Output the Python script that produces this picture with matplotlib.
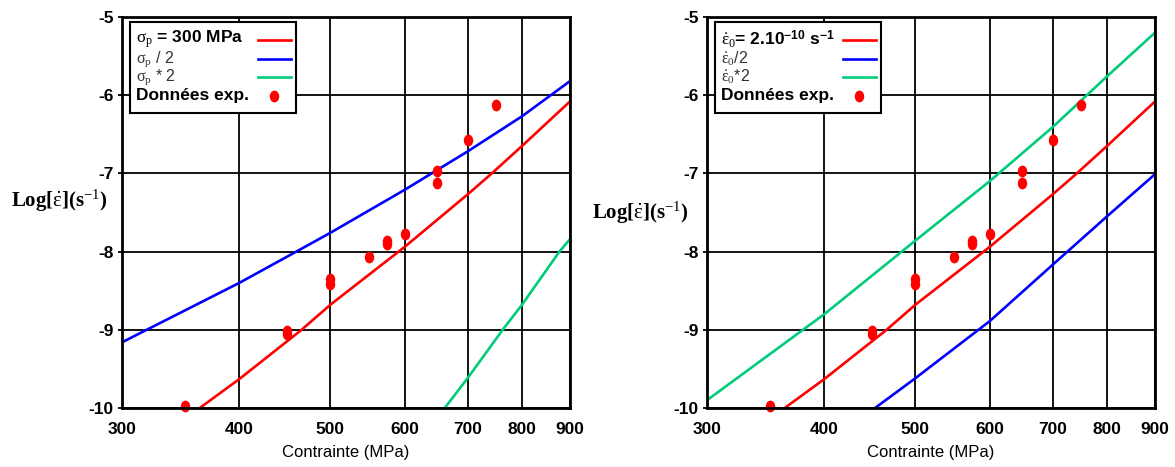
import matplotlib
matplotlib.use("Agg")
import matplotlib.pyplot as plt
import numpy as np
from matplotlib.path import Path
from matplotlib.patches import Rectangle
from matplotlib.ticker import FixedLocator, FixedFormatter, NullLocator

plt.rcParams['font.family'] = ['Liberation Sans', 'DejaVu Sans']
plt.rcParams['mathtext.fontset'] = 'custom'
plt.rcParams['mathtext.rm'] = 'Liberation Serif'
plt.rcParams['mathtext.it'] = 'Liberation Serif:italic'
plt.rcParams['mathtext.bf'] = 'Liberation Sans:bold'
plt.rcParams['axes.unicode_minus'] = False

# ---- data ----
x_ticks = [300, 400, 500, 600, 700, 800, 900]
y_ticks = [-10, -9, -8, -7, -6, -5]

exp_sigma = [350, 450, 450, 500, 500, 550, 575, 575, 600, 650, 650, 700, 750]
exp_log = [-9.97, -9.02, -9.05, -8.35, -8.42, -8.07, -7.86, -7.90, -7.77, -6.97, -7.12, -6.57, -6.12]

red_sigma = [363, 400, 466, 500, 600, 700, 743, 800, 900]
red_log = [-10.0, -9.63, -9.0, -8.68, -7.94, -7.27, -7.0, -6.65, -6.08]

# left panel: sigma_p variations
left_blue_sigma = [300, 400, 460, 500, 600, 700, 800, 900]
left_blue_log = [-9.16, -8.40, -8.0, -7.76, -7.21, -6.72, -6.27, -5.82]
left_green_sigma = [662, 700, 763, 800, 877, 900]
left_green_log = [-10.0, -9.62, -9.0, -8.68, -8.0, -7.84]

# right panel: eps0 variations
right_blue_sigma = [453, 500, 600, 700, 800, 900]
right_blue_log = [-10.0, -9.62, -8.89, -8.17, -7.55, -7.01]
right_green_sigma = [300, 400, 500, 600, 700, 800, 900]
right_green_log = [-9.90, -8.80, -7.86, -7.10, -6.41, -5.76, -5.20]

left_labels = [r'$\mathrm{σ}_\mathrm{p}$ = 300 MPa', r'$\mathrm{σ}_\mathrm{p}$ / 2',
               r'$\mathrm{σ}_\mathrm{p}$ * 2', 'Données exp.']
right_labels = [r'$\dot{\mathrm{ε}}_\mathrm{0}$= 2.10$^{\mathbf{-10}}$ s$^{\mathbf{-1}}$',
                r'$\dot{\mathrm{ε}}_\mathrm{0}$/2',
                r'$\dot{\mathrm{ε}}_\mathrm{0}$*2', 'Données exp.']

RED = '#ff0000'
BLUE = '#0000ff'
GREEN = '#00cc7a'

W, H = 1175, 467
AX_W, AX_H = 448, 391
fig = plt.figure(figsize=(W / 100, H / 100), dpi=100)

circ = Path.unit_circle()
ell = Path(circ.vertices * np.array([0.8, 1.0]), circ.codes)


def setup(ax):
    ax.set_xscale('log')
    ax.set_xlim(300, 900)
    ax.set_ylim(-10, -5)
    ax.xaxis.set_major_locator(FixedLocator(x_ticks))
    ax.xaxis.set_major_formatter(FixedFormatter([str(v) for v in x_ticks]))
    ax.xaxis.set_minor_locator(NullLocator())
    ax.yaxis.set_major_locator(FixedLocator(y_ticks))
    ax.set_yticklabels([str(v) for v in y_ticks])
    ax.grid(True, color='black', lw=1.3)
    for s in ax.spines.values():
        s.set_linewidth(2.0)
        s.set_zorder(5)
    ax.tick_params(axis='x', length=0, pad=10, labelsize=12.5)
    ax.tick_params(axis='y', length=3, width=1.3, direction='out', pad=3, labelsize=12.5)
    for lab in ax.get_xticklabels() + ax.get_yticklabels():
        lab.set_fontweight('bold')
    ax.set_xlabel('Contrainte (MPa)', fontsize=12, labelpad=6)


def px(ax_px_x, ax_px_y):
    # pixel offsets from axes top-left -> axes fraction
    return ax_px_x / AX_W, 1 - ax_px_y / AX_H


def legend(ax, labels):
    x0, y0 = px(8, 4.5)
    x1, y1 = px(174, 95.5)
    ax.add_patch(Rectangle((x0, y1), x1 - x0, y0 - y1, transform=ax.transAxes,
                           facecolor='white', edgecolor='black', lw=1.5, zorder=6,
                           clip_on=False))
    rows = [22.5, 42, 60, 78.5]
    colors = [RED, BLUE, GREEN]
    for i, (lab, yy) in enumerate(zip(labels, rows)):
        tx, ty = px(14, yy)
        bold = i in (0, 3)
        ax.text(tx, ty, lab, transform=ax.transAxes, fontsize=12.5 if bold else 11.5,
                fontweight='bold' if bold else 'normal',
                color='black' if bold else '#333333', va='center', ha='left', zorder=7)
        if i < 3:
            lx0, ly = px(136, yy)
            lx1, _ = px(169, yy)
            ax.plot([lx0, lx1], [ly, ly], transform=ax.transAxes, color=colors[i],
                    lw=1.9, zorder=7, clip_on=False)
        else:
            mx, my = px(152, yy)
            ax.plot([mx], [my], transform=ax.transAxes, ls='none', marker=ell, ms=8.5,
                    color=RED, markeredgewidth=0, zorder=7, clip_on=False)


def panel(ax, blue_s, blue_l, green_s, green_l, labels):
    setup(ax)
    ax.plot(red_sigma, red_log, color=RED, lw=1.9, zorder=3)
    ax.plot(blue_s, blue_l, color=BLUE, lw=1.9, zorder=3)
    ax.plot(green_s, green_l, color=GREEN, lw=1.9, zorder=3)
    ax.plot(exp_sigma, exp_log, ls='none', marker=ell, ms=8.5, color=RED,
            markeredgewidth=0, zorder=4, clip_on=False)
    legend(ax, labels)


axL = fig.add_axes([122 / W, 1 - 408 / H, AX_W / W, AX_H / H])
axR = fig.add_axes([707 / W, 1 - 408 / H, AX_W / W, AX_H / H])

panel(axL, left_blue_sigma, left_blue_log, left_green_sigma, left_green_log, left_labels)
panel(axR, right_blue_sigma, right_blue_log, right_green_sigma, right_green_log, right_labels)

ylab = r'Log[$\dot{\mathrm{ε}}$](s$^{-1}$)'
fig.text(11 / W, 1 - 201 / H, ylab, fontsize=15, family='Liberation Serif',
         fontweight='bold', va='center', ha='left')
fig.text(592 / W, 1 - 213 / H, ylab, fontsize=15, family='Liberation Serif',
         fontweight='bold', va='center', ha='left')

fig.savefig('out.png', dpi=100)
